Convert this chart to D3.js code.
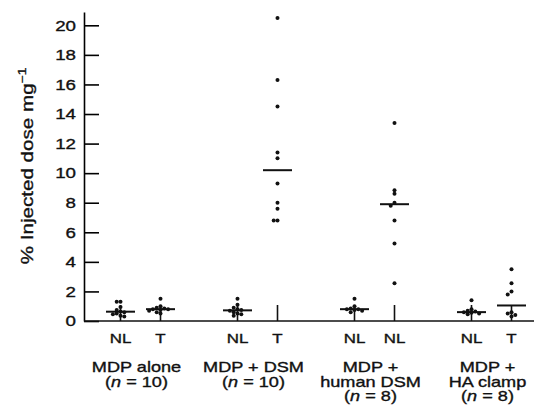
<!DOCTYPE html>
<html>
<head>
<meta charset="utf-8">
<script src="https://cdn.jsdelivr.net/npm/d3@7"></script>
<style>
  body { margin: 0; background: #fff; }
  text { font-family: "Liberation Sans", Arial, sans-serif; fill: #111; stroke: #111; stroke-width: 0.35px; }
</style>
</head>
<body>
<div id="chart"></div>
<script>
// groups along the x axis
const groups = ["MDP alone", "MDP + DSM", "MDP + human DSM", "MDP + HA clamp"];
const groupLines = [["MDP alone"], ["MDP + DSM"], ["MDP +", "human DSM"], ["MDP +", "HA clamp"]];
const groupN = [10, 10, 8, 8];

// one column per tissue, two per group
const columnLabels = ["NL", "T", "NL", "T", "NL", "NL", "NL", "T"];
const columnGroup = [0, 0, 1, 1, 2, 2, 3, 3];

// % injected dose per mg
const mdpAloneNL = [1.3, 1.3, 0.95, 0.75, 0.65, 0.6, 0.5, 0.45, 0.35, 0.3];
const mdpAloneT = [1.5, 1.0, 0.9, 0.85, 0.8, 0.8, 0.75, 0.7, 0.6, 0.5];
const mdpDsmNL = [1.5, 1.1, 0.9, 0.8, 0.75, 0.7, 0.6, 0.5, 0.45, 0.35];
const mdpDsmT = [20.5, 16.3, 14.5, 11.4, 11.0, 9.3, 8.0, 7.6, 6.8, 6.8];
const humanDsmNL = [1.5, 1.0, 0.85, 0.8, 0.8, 0.75, 0.7, 0.6];
const humanDsmNL2 = [13.4, 8.85, 8.6, 8.0, 7.8, 6.8, 5.25, 2.55];
const haClampNL = [1.4, 0.8, 0.7, 0.65, 0.6, 0.55, 0.5, 0.45];
const haClampT = [3.5, 2.55, 2.0, 1.8, 0.6, 0.5, 0.4, 0.3];
const columnValues = [mdpAloneNL, mdpAloneT, mdpDsmNL, mdpDsmT, humanDsmNL, humanDsmNL2, haClampNL, haClampT];

// median bars
const medians = [0.63, 0.8, 0.72, 10.2, 0.8, 7.9, 0.6, 1.05];

const yTicks = [0, 2, 4, 6, 8, 10, 12, 14, 16, 18, 20];

const width = 534, height = 408;
const stretch = 1.25; // the scanned lettering is wide
const svg = d3.select("#chart").append("svg")
    .attr("width", width)
    .attr("height", height);

const axisX = 84;
const y = d3.scaleLinear().domain([0, 20.9]).range([321, 12]);

const xGroup = d3.scaleBand().domain(d3.range(groups.length)).range([82, 550]);
const xSub = d3.scalePoint().domain([0, 1]).range([-20, 20]);
const colX = i => xGroup(columnGroup[i]) + xGroup.bandwidth() / 2 + xSub(i % 2);

// y axis, ticks pointing inward
const yAxis = svg.append("g")
    .attr("transform", `translate(${axisX},0)`)
    .call(d3.axisLeft(y).tickValues(yTicks).tickSizeInner(-15).tickSizeOuter(0).tickPadding(0));
yAxis.select(".domain").attr("stroke-width", 1.6);
yAxis.selectAll(".tick line").attr("stroke-width", 1.6);
yAxis.selectAll(".tick text")
    .attr("x", 0)
    .attr("transform", `translate(-8,0) scale(${stretch},1)`)
    .style("font-size", "15px")
    .style("font-family", "Liberation Sans, Arial, sans-serif")
    .attr("fill", "#111");

// baseline
svg.append("line")
    .attr("x1", axisX).attr("x2", width)
    .attr("y1", y(0)).attr("y2", y(0))
    .attr("stroke", "#111").attr("stroke-width", 1.6);

// y title
const yTitle = svg.append("text")
    .attr("transform", `translate(33,166) rotate(-90) scale(${stretch},1)`)
    .attr("text-anchor", "middle")
    .style("font-size", "16.5px");
yTitle.append("tspan").text("% Injected dose mg");
yTitle.append("tspan").attr("dy", -7).style("font-size", "11px").text("\u22121");

// columns
columnLabels.forEach((lab, i) => {
    const cx = colX(i);
    svg.append("line")
        .attr("x1", cx).attr("x2", cx)
        .attr("y1", y(0)).attr("y2", y(0) - 16)
        .attr("stroke", "#111").attr("stroke-width", 1.6);

    svg.append("text")
        .attr("transform", `translate(${cx},343) scale(${stretch},1)`)
        .attr("text-anchor", "middle")
        .style("font-size", "13.5px")
        .text(lab);

    // median bar
    svg.append("line")
        .attr("x1", cx - 14.5).attr("x2", cx + 14.5)
        .attr("y1", y(medians[i])).attr("y2", y(medians[i]))
        .attr("stroke", "#111").attr("stroke-width", 2);

    // dodge overlapping dots sideways
    const placed = [];
    const offsets = [0, -3.8, 3.8, -7.6, 7.6, -11.4, 11.4];
    columnValues[i].slice().sort(d3.descending).forEach(v => {
        const py = y(v);
        let dx = offsets.find(o => placed.every(p => Math.hypot(p[0] - o, p[1] - py) > 3.6));
        if (dx === undefined) dx = 0;
        placed.push([dx, py]);
    });

    svg.append("g").selectAll("circle")
        .data(placed)
        .join("circle")
        .attr("cx", d => cx + d[0])
        .attr("cy", d => d[1])
        .attr("r", 2)
        .attr("fill", "#111");
});

// group labels, one text per line
groups.forEach((g, gi) => {
    const cx = xGroup(gi) + xGroup.bandwidth() / 2 - 4;
    const lines = groupLines[gi];
    lines.forEach((ln, k) => {
        svg.append("text")
            .attr("transform", `translate(${cx},${372 + k * 14.5}) scale(${stretch},1)`)
            .attr("text-anchor", "middle")
            .style("font-size", "14.5px")
            .text(ln);
    });
    const nText = svg.append("text")
        .attr("transform", `translate(${cx},${372 + lines.length * 14.5}) scale(${stretch},1)`)
        .attr("text-anchor", "middle")
        .style("font-size", "14.5px");
    nText.append("tspan").text("(");
    nText.append("tspan").style("font-style", "italic").text("n");
    nText.append("tspan").text(" = " + groupN[gi] + ")");
});
</script>
</body>
</html>
